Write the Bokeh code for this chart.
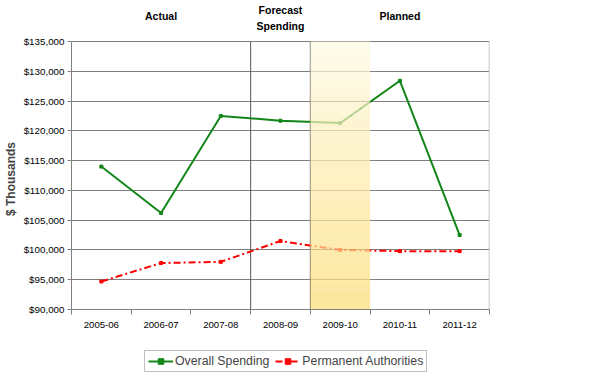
import numpy as np
from bokeh.plotting import figure
from bokeh.layouts import column
from bokeh.models import (Range1d, FixedTicker, NumeralTickFormatter, Legend, LegendItem)
from bokeh.core.properties import value
from bokeh.embed import file_html
from bokeh.resources import INLINE

categories = ["2005-06", "2006-07", "2007-08", "2008-09", "2009-10", "2010-11", "2011-12"]
overall = [114000, 106200, 122500, 121700, 121300, 128400, 102500]
permanent = [94700, 97800, 98000, 101500, 100000, 99800, 99800]
headers = ["Actual", "Forecast\nSpending", "Planned"]
header_cats = ["2006-07", "2008-09", "2010-11"]
forecast_cat = "2009-10"
separator_after = ["2007-08", "2008-09"]
series_names = ["Overall Spending", "Permanent Authorities"]
y_ticks = list(range(90000, 135001, 5000))

FONT = "Liberation Sans"
GREEN = "#13861a"
RED = "#ff0000"
DASH = "7 3 2 3"
n = len(categories)
xs = np.arange(n) + 0.5
ymin, ymax = 90000, 135000
PLOT_H = 268                      # pixel height of the value area
HEADER_H = 41                     # pixel strip above it for period headers
FRAME_H = PLOT_H + HEADER_H
units_per_px = (ymax - ymin) / PLOT_H
ytop = ymin + FRAME_H * units_per_px

p = figure(frame_width=418, frame_height=FRAME_H, output_backend="svg", toolbar_location=None,
           x_range=Range1d(0, n), y_range=Range1d(ymin, ytop),
           min_border_left=70, min_border_top=0, min_border_right=102, min_border_bottom=30)
p.outline_line_color = None
p.background_fill_color = "white"
p.border_fill_color = "white"

# x axis
p.xaxis.ticker = FixedTicker(ticks=list(xs), minor_ticks=list(range(n + 1)))
p.xaxis.major_label_overrides = {float(x): c for x, c in zip(xs, categories)}
p.xaxis.major_tick_out = 0
p.xaxis.major_tick_in = 0
p.xaxis.minor_tick_out = 5
p.xaxis.minor_tick_in = 0
p.xaxis.minor_tick_line_color = "#808080"
p.xaxis.axis_line_color = "#808080"
p.xaxis.major_label_text_font = FONT
p.xaxis.major_label_text_font_size = "9.6px"
p.xaxis.major_label_text_color = "black"
p.xaxis.major_label_standoff = 7

# y axis
p.yaxis.ticker = FixedTicker(ticks=y_ticks)
p.yaxis.bounds = (ymin, ymax)
p.yaxis.formatter = NumeralTickFormatter(format="$0,0")
p.yaxis.major_tick_out = 4
p.yaxis.major_tick_in = 0
p.yaxis.minor_tick_line_color = None
p.yaxis.major_tick_line_color = "#808080"
p.yaxis.axis_line_color = "#808080"
p.yaxis.major_label_text_font = FONT
p.yaxis.major_label_text_font_size = "9.8px"
p.yaxis.major_label_text_color = "black"
p.yaxis.major_label_standoff = 3
p.yaxis.axis_label = "$ Thousands" + "\u2003" * 4
p.yaxis.axis_label_text_font = FONT
p.yaxis.axis_label_text_font_style = "bold"
p.yaxis.axis_label_text_font_size = "12px"
p.yaxis.axis_label_standoff = 3

p.xgrid.grid_line_color = None
p.ygrid.ticker = FixedTicker(ticks=y_ticks)
p.ygrid.grid_line_color = "#7f7f7f"
p.ygrid.grid_line_width = 1

# right border of the value area
p.segment(x0=[n], x1=[n], y0=[ymin], y1=[ymax], line_color="#b8b8b8", line_width=1.5)

# separators between periods
sep_x = [categories.index(c) + 1 for c in separator_after]
p.segment(x0=sep_x, x1=sep_x, y0=[ymin] * len(sep_x), y1=[ymax] * len(sep_x),
          line_color="#555555", line_width=1)

# lines
p.line(xs, overall, line_color=GREEN, line_width=2)
p.scatter(xs, overall, marker="square", size=3, color=GREEN)
p.line(xs, permanent, line_color=RED, line_width=2, line_dash=DASH)
p.scatter(xs, permanent, marker="square", size=3, color=RED)

# forecast band with vertical gradient
fi = categories.index(forecast_cat)
steps = 40
edges = np.linspace(ymin, ymax, steps + 1)
c_top = np.array([255, 250, 228])
c_bot = np.array([252, 221, 118])
cols = []
for k in range(steps):
    t = (k + 0.5) / steps
    c = (c_bot * (1 - t) + c_top * t).astype(int)
    cols.append("#%02x%02x%02x" % tuple(c))
p.quad(left=[fi] * steps, right=[fi + 1] * steps, bottom=edges[:-1], top=edges[1:],
       fill_color=cols, fill_alpha=0.72, line_color=None)

# period headers
hx = [categories.index(c) + 0.5 for c in header_cats]
hy = [ymax + (26 if "\n" not in h else 23.5) * units_per_px for h in headers]
p.text(x=hx, y=hy, text=headers, text_align="center", text_baseline="middle",
       text_font=value(FONT), text_font_style="bold", text_font_size="10.5px",
       text_line_height=1.3, text_color="black")

# legend strip (its frame is aligned with the chart frame by the column layout)
lg = figure(width=590, height=34, output_backend="svg", toolbar_location=None,
            x_range=Range1d(0, 1), y_range=Range1d(0, 1),
            x_axis_location=None, y_axis_location=None,
            min_border_left=0, min_border_right=0, min_border_top=0, min_border_bottom=0)
lg.outline_line_color = None
lg.grid.visible = False
l1 = lg.line([-5, -4], [-5, -4], line_color=GREEN, line_width=2)
s1 = lg.scatter([-5], [-5], marker="square", size=3, color=GREEN)
l2 = lg.line([-5, -4], [-5, -4], line_color=RED, line_width=2, line_dash=DASH)
s2 = lg.scatter([-5], [-5], marker="square", size=3, color=RED)
legend = Legend(items=[LegendItem(label=series_names[0], renderers=[l1, s1]),
                       LegendItem(label=series_names[1], renderers=[l2, s2])],
                orientation="horizontal", location=(73, 1),
                label_text_font=FONT, label_text_font_size="12.3px",
                border_line_color="#808080", border_line_width=1,
                padding=3, spacing=6, margin=0, label_standoff=2,
                glyph_width=25, glyph_height=14, label_height=14)
lg.add_layout(legend, "center")

layout = column(p, lg, spacing=0)
open("out.html", "w").write(file_html(layout, INLINE))
